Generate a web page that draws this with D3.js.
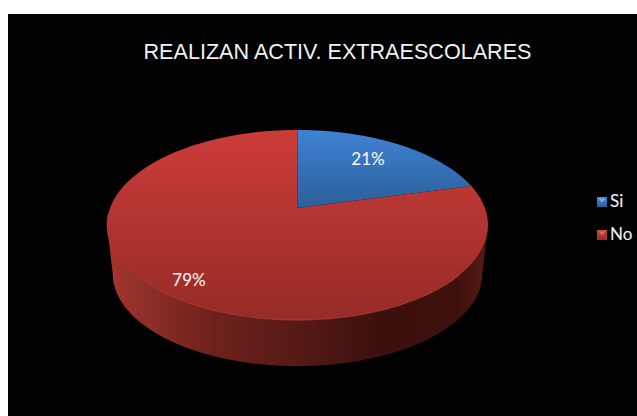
<!DOCTYPE html>
<html>
<head>
<meta charset="utf-8">
<script src="https://cdn.jsdelivr.net/npm/d3@7"></script>
<style>
html,body{margin:0;padding:0;background:#fff;overflow:hidden}
svg{display:block}
</style>
</head>
<body>
<svg id="chart" width="637" height="416"></svg>
<script>
const categories = ["Si", "No"];
const shares = [21, 79];
const chartTitle = "REALIZAN ACTIV. EXTRAESCOLARES";

const svg = d3.select("#chart");
const defs = svg.append("defs");

function linear(id, x2, y2, stops) {
  const g = defs.append("linearGradient").attr("id", id)
    .attr("x1", 0).attr("y1", 0).attr("x2", x2).attr("y2", y2);
  stops.forEach(s => g.append("stop").attr("offset", s[0]).attr("stop-color", s[1]));
}
linear("topSi", 0, 1, [[0, "#3f82d4"], [1, "#2b5f99"]]);
linear("topNo", 0, 1, [[0, "#cc3c39"], [1, "#962b27"]]);
linear("rim", 1, 0, [[0, "#a8352d"], [0.08, "#93302a"], [0.28, "#6e211c"], [0.5, "#561a15"], [0.72, "#3c100e"], [0.92, "#3e110e"], [1, "#561b15"]]);
linear("keySi", 0, 1, [[0, "#4a8bd6"], [1, "#2a5f9c"]]);
linear("keyNo", 0, 1, [[0, "#d0423e"], [1, "#9a2c28"]]);

// Panel behind the chart
svg.append("rect").attr("x", 8).attr("y", 14).attr("width", 629).attr("height", 402).attr("fill", "#000");

svg.append("text")
  .attr("x", 337.5).attr("y", 59)
  .attr("text-anchor", "middle")
  .attr("font-family", "'Liberation Sans', Arial, sans-serif")
  .attr("font-size", 21.6)
  .attr("fill", "#f2f2f2")
  .text(chartTitle);

// Tilted disc: a perspective projection of the unit circle onto the page
const apex = { x: 297.5, y: 208 };
const tilt = 0.179, halfWidth = 187.4, halfDepth = 92, thickness = 49.4, baseScale = 0.97;
function project(angle, lift, scale) {
  const u = Math.sin(angle), v = -Math.cos(angle), w = 1 - tilt * v;
  return [apex.x + scale * halfWidth * u / w, apex.y + lift + scale * halfDepth * v / w];
}

const pie = d3.pie().sort(null).value(d => d);
const slices = pie(shares);
const line = d3.line();
const fullTurn = 2 * Math.PI;

function arcPoints(a0, a1, lift, scale) {
  const n = Math.max(2, Math.ceil(Math.abs(a1 - a0) * 60));
  return d3.range(n + 1).map(i => project(a0 + (a1 - a0) * i / n, lift, scale));
}

// Side wall spans the widest points of the disc, where the rim turns away from the viewer
const frontStart = Math.acos(-tilt), frontEnd = fullTurn - frontStart;
svg.append("path")
  .attr("d", line(arcPoints(frontStart, frontEnd, 0, 1)
    .concat(arcPoints(frontEnd, frontStart, thickness, baseScale))) + "Z")
  .attr("fill", "url(#rim)");

// Top face of each slice
const topFills = ["url(#topSi)", "url(#topNo)"];
svg.selectAll("path.slice").data(slices).join("path")
  .attr("class", "slice")
  .attr("d", d => line([[apex.x, apex.y]].concat(arcPoints(d.startAngle, d.endAngle, 0, 1))) + "Z")
  .attr("fill", (d, i) => topFills[i]);

// Thin highlight along the front of the rim
svg.append("path")
  .attr("d", line(arcPoints(fullTurn * 0.36, fullTurn * 0.74, 0, 1)))
  .attr("fill", "none").attr("stroke", "#c9483f").attr("stroke-width", 1).attr("stroke-opacity", 0.6);

// Share labels on the slices
const labelPositions = [[368, 165], [189, 286]];
svg.selectAll("text.share").data(slices).join("text")
  .attr("class", "share")
  .attr("x", (d, i) => labelPositions[i][0])
  .attr("y", (d, i) => labelPositions[i][1])
  .attr("text-anchor", "middle")
  .attr("font-family", "Lato, 'Open Sans', sans-serif")
  .attr("font-size", 17)
  .attr("fill", "#f6f0f0")
  .attr("stroke", "#f6f0f0").attr("stroke-width", 0.12)
  .text(d => d.data + "%");

// Legend: small bevelled squares with a lighter wedge
const legendY = d3.scalePoint().domain(categories).range([202, 235]);
const keyFills = ["url(#keySi)", "url(#keyNo)"];
const wedgeFills = ["#6fb0ee", "#e8625c"];
const legend = svg.selectAll("g.key").data(categories).join("g")
  .attr("class", "key")
  .attr("transform", d => `translate(597,${legendY(d)})`);
legend.append("rect").attr("x", 0).attr("y", -5).attr("width", 10).attr("height", 10)
  .attr("fill", (d, i) => keyFills[i]);
legend.append("path").attr("d", "M1.5,-3.5H8.5L5,0.5Z")
  .attr("fill", (d, i) => wedgeFills[i]);
legend.append("text").attr("x", 13).attr("y", 5)
  .attr("font-family", "Lato, 'Open Sans', sans-serif")
  .attr("font-size", 17)
  .attr("fill", "#eeeeee")
  .attr("stroke", "#eeeeee").attr("stroke-width", 0.12)
  .text(d => d);
</script>
</body>
</html>
